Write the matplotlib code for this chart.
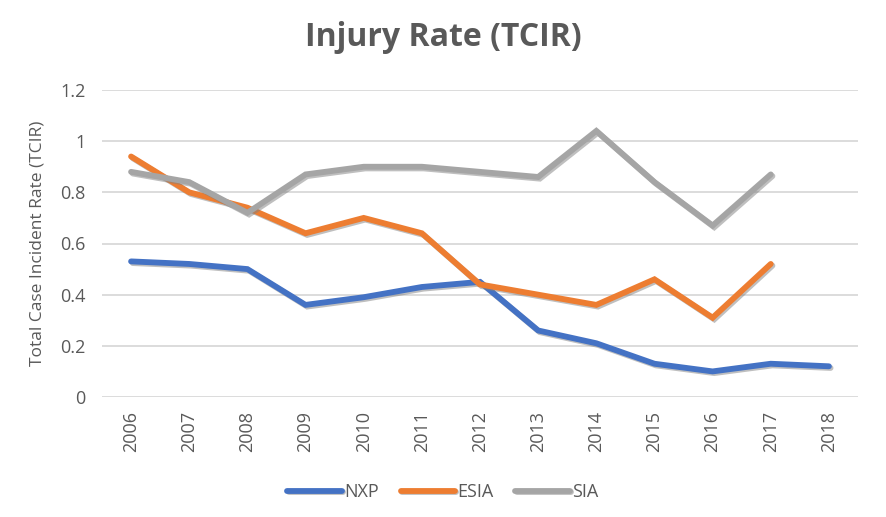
import matplotlib
matplotlib.use("Agg")
import matplotlib.pyplot as plt
import matplotlib.patheffects as pe
import numpy as np

plt.rcParams['font.family'] = ['Open Sans', 'DejaVu Sans']

years = ['2006', '2007', '2008', '2009', '2010', '2011', '2012',
         '2013', '2014', '2015', '2016', '2017', '2018']
nxp = [0.53, 0.52, 0.50, 0.36, 0.39, 0.43, 0.45, 0.26, 0.21, 0.13, 0.10, 0.13, 0.12]
esia = [0.94, 0.80, 0.74, 0.64, 0.70, 0.64, 0.44, 0.40, 0.36, 0.46, 0.31, 0.52]
sia = [0.88, 0.84, 0.72, 0.87, 0.90, 0.90, 0.88, 0.86, 1.04, 0.84, 0.67, 0.87]

series = [("NXP", nxp, "#4472C4"), ("ESIA", esia, "#ED7D31"), ("SIA", sia, "#A5A5A5")]

W, H = 886, 517
fig = plt.figure(figsize=(W / 100, H / 100), dpi=100)
ax = fig.add_axes([102 / W, 1 - 397 / H, (858 - 102) / W, (397 - 90) / H])

shadow = [pe.SimpleLineShadow(offset=(1.2, -1.2), shadow_color='#808080', alpha=0.5), pe.Normal()]
for name, vals, col in series:
    ax.plot(np.arange(len(vals)), vals, color=col, lw=4.2, label=name,
            solid_capstyle='round', solid_joinstyle='miter', path_effects=shadow)

ax.set_xlim(-0.5, len(years) - 0.5)
ax.set_ylim(0, 1.2)
ax.set_yticks(np.arange(0, 1.21, 0.2))
ax.set_yticklabels(['0', '0.2', '0.4', '0.6', '0.8', '1', '1.2'])
ax.set_xticks(np.arange(len(years)))
ax.set_xticklabels(years, rotation=90)
ax.tick_params(axis='both', length=0, labelsize=13, colors='#595959')
ax.tick_params(axis='y', pad=12)
ax.tick_params(axis='x', pad=10)
ax.grid(axis='y', color='#D9D9D9', lw=1.3)
ax.set_axisbelow(True)
for s in ax.spines.values():
    s.set_visible(False)

ax.set_ylabel('Total Case Incident Rate (TCIR)', fontsize=12.5, color='#595959', labelpad=10)
fig.text(0.5, 1 - 38 / H, 'Injury Rate (TCIR)', ha='center', va='center',
         fontsize=23, fontweight='bold', color='#595959')

fig.legend(loc='center', bbox_to_anchor=(0.5, 1 - 492 / H), ncol=3, frameon=False,
           fontsize=13, handlelength=3.0, handletextpad=0.15, columnspacing=1.2,
           labelcolor='#595959')

fig.savefig('out.png', dpi=100)
